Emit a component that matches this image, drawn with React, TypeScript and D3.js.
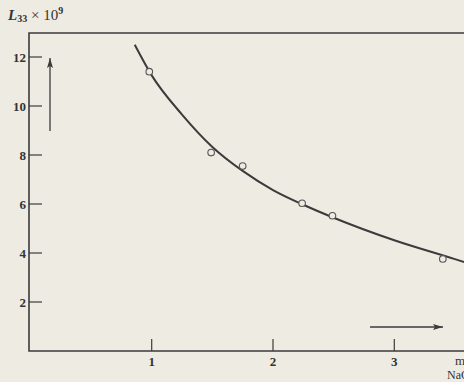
import * as React from "react";
import * as d3 from "d3";

// measured points (m NaCl, L33 x 10^9)
const pointX = [0.98, 1.49, 1.75, 2.24, 2.49, 3.4];
const pointY = [11.4, 8.1, 7.55, 6.03, 5.52, 3.76];

// hand-drawn fitted curve
const curveX = [0.86, 1.0, 1.25, 1.5, 1.75, 2.0, 2.25, 2.5, 3.0, 3.5, 3.62];
const curveY = [12.5, 11.25, 9.65, 8.33, 7.35, 6.57, 5.97, 5.44, 4.52, 3.75, 3.56];

const xTicks = [1, 2, 3];
const yTicks = [2, 4, 6, 8, 10, 12];

const W = 464;
const H = 382;
const margin = {top: 33, left: 29, bottom: 31};

export default function App() {
  const ref = React.useRef<SVGSVGElement>(null);

  React.useEffect(() => {
    const svg = d3.select(ref.current);
    svg.selectAll("*").remove();

    const x = d3.scaleLinear().domain([0, 1]).range([margin.left + 1.4, margin.left + 122.7]);
    const y = d3.scaleLinear().domain([0, 2]).range([H - margin.bottom, H - margin.bottom - 49]);
    const ink = "#3b3b3b";
    const textInk = "#333";
    const font = "'Liberation Serif', 'DejaVu Serif', serif";

    svg.append("rect").attr("width", W).attr("height", H).attr("fill", "#eeebe3");

    // frame: left axis, bottom axis, top border
    const x0 = margin.left;
    const yB = H - margin.bottom;
    svg.append("path")
      .attr("d", `M${W},${margin.top}H${x0}V${yB}H${W}`)
      .attr("fill", "none")
      .attr("stroke", ink)
      .attr("stroke-width", 1.6);

    // y ticks (pointing inward)
    const yg = svg.append("g");
    yTicks.forEach(t => {
      yg.append("line")
        .attr("x1", x0).attr("x2", x0 + 13)
        .attr("y1", y(t)).attr("y2", y(t))
        .attr("stroke", ink).attr("stroke-width", 1.2);
      yg.append("text")
        .attr("x", x0 - 3).attr("y", y(t) + 4.5)
        .attr("text-anchor", "end")
        .attr("font-family", font).attr("font-size", 13)
        .attr("font-weight", "bold")
        .attr("fill", textInk)
        .text(t);
    });

    // x ticks
    const xg = svg.append("g");
    xTicks.forEach(t => {
      xg.append("line")
        .attr("x1", x(t)).attr("x2", x(t))
        .attr("y1", yB).attr("y2", yB - 12)
        .attr("stroke", ink).attr("stroke-width", 1.2);
      xg.append("text")
        .attr("x", x(t)).attr("y", yB + 15)
        .attr("text-anchor", "middle")
        .attr("font-family", font).attr("font-size", 13)
        .attr("font-weight", "bold")
        .attr("fill", textInk)
        .text(t);
    });

    // axis titles
    const yl = svg.append("text")
      .attr("x", 8).attr("y", 20)
      .attr("font-family", font).attr("font-size", 15)
      .attr("font-weight", "bold")
      .attr("fill", textInk);
    yl.append("tspan").attr("font-style", "italic").text("L");
    yl.append("tspan").attr("font-size", 10).attr("dy", 2).text("33");
    yl.append("tspan").attr("dy", -2).attr("font-weight", "normal").text(" × 10");
    yl.append("tspan").attr("font-size", 10).attr("dy", -6).text("9");

    svg.append("text")
      .attr("x", 455).attr("y", 365)
      .attr("font-family", font).attr("font-size", 13)
      .attr("fill", textInk).text("m");
    svg.append("text")
      .attr("x", 447).attr("y", 379)
      .attr("font-family", font).attr("font-size", 12)
      .attr("fill", textInk).text("NaCl");

    // arrows
    const defs = svg.append("defs");
    defs.append("marker")
      .attr("id", "arr")
      .attr("viewBox", "0 0 10 6")
      .attr("refX", 10).attr("refY", 3)
      .attr("markerWidth", 11).attr("markerHeight", 6)
      .attr("markerUnits", "userSpaceOnUse")
      .attr("orient", "auto")
      .append("path").attr("d", "M0,0L10,3L0,6L2,3Z").attr("fill", ink);

    svg.append("line")
      .attr("x1", 50).attr("y1", 131).attr("x2", 50).attr("y2", 58)
      .attr("stroke", ink).attr("stroke-width", 1.3)
      .attr("marker-end", "url(#arr)");
    svg.append("line")
      .attr("x1", 370).attr("y1", 327).attr("x2", 443).attr("y2", 327)
      .attr("stroke", ink).attr("stroke-width", 1.3)
      .attr("marker-end", "url(#arr)");

    // fitted curve
    const line = d3.line<number>()
      .x((d, i) => x(curveX[i]))
      .y(d => y(d))
      .curve(d3.curveMonotoneX);
    svg.append("path")
      .attr("d", line(curveY))
      .attr("fill", "none")
      .attr("stroke", ink)
      .attr("stroke-width", 2);

    // measured points
    svg.append("g")
      .selectAll("circle")
      .data(pointY)
      .join("circle")
      .attr("cx", (d, i) => x(pointX[i]))
      .attr("cy", d => y(d))
      .attr("r", 3.3)
      .attr("fill", "#eeebe3")
      .attr("stroke", "#555")
      .attr("stroke-width", 1.1);
  }, []);

  return (
    <svg ref={ref} width={W} height={H}
         style={{position: "absolute", left: 0, top: 0, display: "block"}}/>
  );
}
